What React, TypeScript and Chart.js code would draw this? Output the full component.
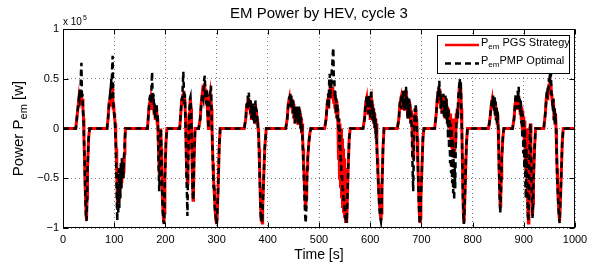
import React, { useEffect, useRef } from "react";
import { Chart, registerables } from "chart.js";

Chart.register(...registerables);

const TITLE = "EM Power by HEV, cycle 3";
const X_LABEL = "Time [s]";
const X_TICKS = [0, 100, 200, 300, 400, 500, 600, 700, 800, 900, 1000];
const Y_TICKS = [-1, -0.5, 0, 0.5, 1];
const LEGEND_PGS = "PGS Strategy";
const LEGEND_PMP = "PMP Optimal";

// time [s]
const TIME = [
  0,
  25, 27, 29, 31, 32, 33, 34, 35, 36, 37, 38, 39, 40, 41, 42, 43, 44, 45, 46, 47, 48, 50, 52,
  86, 88, 90, 92, 93, 94, 95, 96, 97, 98, 99, 100, 101, 102, 103, 104, 105, 106, 107, 108, 109, 110, 111, 112, 113, 114, 115, 116, 117, 118, 119, 120, 121, 122,
  165, 167, 169, 171, 172, 173, 174, 175, 176, 177, 178, 179, 180, 181, 182, 183, 184, 185, 186, 187, 188, 189, 190, 191, 192, 193, 194, 195, 196, 197, 198, 199, 201, 203,
  228, 230, 232, 233, 234, 235, 236, 237, 238, 239, 240, 241, 242, 243, 244, 245, 246, 247, 248, 249, 250, 251, 252, 253, 254, 255, 256, 258,
  265, 268, 270, 272, 274, 275, 276, 277, 278, 279, 280, 281, 282, 283, 284, 285, 286, 287, 288, 289, 290, 291, 292, 293, 294, 295, 296, 297, 298, 299, 300, 301, 303, 305, 307,
  354, 357, 359, 360, 361, 362, 363, 364, 365, 366, 367, 368, 369, 370, 371, 372, 373, 374, 375, 376, 377, 378, 379, 380, 381, 382, 383, 384, 385, 386, 387, 388, 389, 390, 392, 394, 397,
  435, 438, 440, 442, 443, 444, 445, 446, 447, 448, 449, 450, 451, 452, 453, 454, 455, 456, 457, 458, 459, 460, 461, 462, 463, 464, 465, 466, 467, 468, 469, 470, 471, 472, 473, 474, 475, 476, 477, 478, 480, 482, 484,
  511, 514, 516, 518, 519, 520, 521, 522, 523, 524, 525, 526, 527, 528, 529, 530, 531, 532, 533, 534, 535, 536, 537, 538, 539, 540, 541, 542, 543, 544, 545, 546, 547, 548, 549, 550, 551, 552, 553, 554, 555, 557, 559, 561,
  586, 589, 591, 593, 594, 595, 596, 597, 598, 599, 600, 601, 602, 603, 604, 605, 606, 607, 608, 609, 610, 611, 612, 613, 614, 615, 616, 617, 618, 619, 620, 621, 622, 623, 625, 627,
  653, 656, 658, 660, 661, 662, 663, 664, 665, 666, 667, 668, 669, 670, 671, 672, 673, 674, 675, 676, 677, 678, 679, 680, 681, 682, 683, 684, 685, 686, 687, 688, 689, 690, 691, 692, 693, 694, 695, 696, 697, 698, 699, 701, 703, 705,
  726, 729, 731, 732, 733, 734, 735, 736, 737, 738, 739, 740, 741, 742, 743, 744, 745, 746, 747, 748, 749, 750, 751, 752, 753, 754, 755, 756, 757, 758, 759, 760, 761, 762, 763, 764, 765, 766, 767, 768, 769, 770, 771, 772, 773, 774, 775, 776, 777, 778, 779, 780, 781, 782, 783, 784, 786, 788, 790,
  831, 834, 836, 838, 839, 840, 841, 842, 843, 844, 845, 846, 847, 848, 849, 850, 851, 852, 853, 854, 855, 856, 857, 859, 861,
  878, 881, 883, 884, 885, 886, 887, 888, 889, 890, 891, 892, 893, 894, 895, 896, 897, 898, 899, 900, 901, 902, 903, 904, 905, 906, 907, 908, 909, 910, 911, 912, 913, 914, 915, 916, 917, 918, 919, 921, 923,
  939, 942, 944, 945, 946, 947, 948, 949, 950, 951, 952, 953, 954, 955, 956, 957, 958, 959, 960, 961, 962, 963, 964, 965, 966, 967, 968, 969, 970, 971, 973, 975, 977,
  1000,
];

// P_em, PGS strategy [x 1e5 W]
const PGS = [
  0,
  0, 0.1, 0.2, 0.3, 0.25, 0.32, 0.28, 0.35, 0.3, 0.25, 0.3, 0.2, 0.1, -0.1, -0.3, -0.5, -0.7, -0.85, -0.92, -0.7, -0.4, -0.1, 0,
  0, 0.1, 0.25, 0.3, 0.22, 0.4, 0.3, 0.45, 0.35, 0.2, 0.25, 0.15, 0.1, 0.05, -0.1, -0.2, -0.45, -0.7, -0.8, -0.6, -0.75, -0.5, -0.65, -0.4, -0.6, -0.35, -0.55, -0.3, -0.5, -0.3, -0.45, -0.25, -0.1, 0,
  0, 0.15, 0.25, 0.3, 0.2, 0.35, 0.28, 0.3, 0.22, 0.25, 0.15, 0.2, 0.1, 0.18, 0.12, 0.2, 0.05, 0.1, -0.1, -0.3, -0.45, -0.3, -0.1, 0.0, -0.2, -0.45, -0.65, -0.8, -0.9, -0.95, -0.85, -0.5, -0.15, 0,
  0, 0.15, 0.3, 0.25, 0.35, 0.3, 0.38, 0.25, 0.3, 0.15, -0.05, -0.3, -0.45, -0.55, -0.35, -0.2, 0.05, 0.15, 0.25, 0.3, 0.2, 0.0, -0.3, -0.55, -0.72, -0.6, -0.3, 0,
  0, 0.1, 0.25, 0.35, 0.3, 0.4, 0.45, 0.35, 0.3, 0.4, 0.25, 0.35, 0.2, 0.1, 0.0, 0.15, 0.25, 0.3, 0.35, 0.3, 0.2, 0.0, -0.2, -0.35, -0.5, -0.6, -0.7, -0.8, -0.88, -0.93, -0.96, -0.9, -0.6, -0.2, 0,
  0, 0.1, 0.25, 0.2, 0.3, 0.25, 0.3, 0.2, 0.28, 0.15, 0.25, 0.1, 0.2, 0.12, 0.22, 0.1, 0.2, 0.05, 0.15, 0.25, 0.1, 0.18, 0.05, 0.1, 0.0, -0.05, -0.2, -0.4, -0.6, -0.8, -0.92, -0.85, -0.95, -0.8, -0.5, -0.2, 0,
  0, 0.1, 0.25, 0.3, 0.22, 0.32, 0.25, 0.3, 0.2, 0.28, 0.15, 0.25, 0.1, 0.2, 0.05, 0.15, 0.1, 0.2, 0.08, 0.18, 0.05, 0.12, 0.2, 0.1, 0.15, 0.0, 0.1, -0.05, 0.05, -0.1, -0.2, -0.35, -0.5, -0.6, -0.75, -0.8, -0.7, -0.55, -0.4, -0.3, -0.15, -0.05, 0,
  0, 0.1, 0.25, 0.3, 0.2, 0.35, 0.3, 0.45, 0.35, 0.4, 0.3, 0.42, 0.35, 0.3, 0.25, 0.35, 0.2, 0.3, 0.15, 0.28, 0.1, 0.2, 0.05, -0.3, 0.1, -0.5, 0.05, -0.6, 0.0, -0.7, -0.1, -0.8, -0.2, -0.85, -0.3, -0.9, -0.4, -0.95, -0.5, -0.95, -0.8, -0.4, -0.1, 0,
  0, 0.1, 0.25, 0.3, 0.2, 0.28, 0.15, 0.3, 0.2, 0.25, 0.1, 0.28, 0.3, 0.15, 0.25, 0.08, 0.2, 0.05, 0.15, 0.0, 0.1, -0.05, 0.05, -0.15, -0.3, -0.4, -0.55, -0.65, -0.75, -0.82, -0.88, -0.92, -0.85, -0.6, -0.2, 0,
  0, 0.1, 0.25, 0.3, 0.2, 0.32, 0.25, 0.35, 0.22, 0.3, 0.18, 0.35, 0.25, 0.38, 0.2, 0.3, 0.12, 0.25, 0.1, 0.28, 0.15, 0.22, 0.05, 0.18, 0.1, 0.0, -0.15, -0.3, -0.1, 0.05, 0.15, 0.05, 0.2, 0.1, 0.05, -0.1, -0.3, -0.5, -0.7, -0.85, -0.95, -0.9, -0.7, -0.4, -0.1, 0,
  0, 0.15, 0.3, 0.25, 0.38, 0.3, 0.4, 0.3, 0.35, 0.2, 0.3, 0.15, 0.28, 0.2, 0.32, 0.15, 0.25, 0.1, 0.3, 0.2, 0.28, 0.1, 0.22, 0.05, 0.2, 0.1, 0.0, 0.15, -0.1, 0.1, -0.2, 0.05, -0.25, 0.1, -0.2, 0.05, -0.3, 0.1, -0.15, 0.15, 0.05, 0.2, 0.1, 0.25, 0.35, 0.4, 0.45, 0.3, 0.4, 0.2, 0.0, -0.3, -0.6, -0.85, -0.95, -0.85, -0.5, -0.15, 0,
  0, 0.1, 0.22, 0.28, 0.2, 0.3, 0.25, 0.2, 0.3, 0.15, 0.25, 0.1, 0.2, 0.05, 0.15, 0.0, -0.2, -0.45, -0.65, -0.78, -0.7, -0.5, -0.3, -0.1, 0,
  0, 0.1, 0.25, 0.3, 0.22, 0.28, 0.2, 0.32, 0.25, 0.33, 0.2, 0.28, 0.15, 0.25, 0.1, 0.22, 0.0, 0.18, -0.05, 0.12, -0.15, 0.08, -0.3, -0.45, 0.0, -0.3, -0.6, -0.85, -0.95, -0.7, -0.3, 0.0, 0.05, -0.2, -0.45, -0.7, -0.88, -0.75, -0.5, -0.2, 0,
  0, 0.15, 0.3, 0.35, 0.3, 0.4, 0.35, 0.45, 0.4, 0.5, 0.42, 0.45, 0.35, 0.3, 0.25, 0.2, 0.28, 0.1, 0.2, 0.05, 0.15, 0.0, -0.2, -0.4, -0.55, -0.7, -0.8, -0.88, -0.93, -0.8, -0.5, -0.15, 0,
  0,
];

// P_em, PMP optimal [x 1e5 W]
const PMP = [
  0,
  0, 0.1, 0.2, 0.3, 0.28, 0.4, 0.3, 0.55, 0.66, 0.3, 0.35, 0.2, 0.1, -0.1, -0.3, -0.55, -0.75, -0.88, -0.93, -0.7, -0.4, -0.1, 0,
  0, 0.1, 0.25, 0.35, 0.3, 0.5, 0.4, 0.62, 0.73, 0.3, 0.2, 0.15, 0.1, 0.0, -0.15, -0.4, -0.7, -0.93, -0.6, -0.85, -0.4, -0.8, -0.5, -0.7, -0.35, -0.6, -0.3, -0.5, -0.35, -0.5, -0.3, -0.2, -0.1, 0,
  0, 0.15, 0.3, 0.35, 0.25, 0.45, 0.57, 0.3, 0.28, 0.35, 0.15, 0.25, 0.1, 0.22, 0.1, 0.25, 0.05, 0.15, -0.2, -0.45, -0.63, -0.4, -0.1, 0.0, -0.2, -0.5, -0.7, -0.85, -0.9, -0.96, -0.85, -0.5, -0.15, 0,
  0, 0.15, 0.3, 0.3, 0.45, 0.57, 0.4, 0.25, 0.35, 0.1, -0.1, -0.45, -0.65, -0.88, -0.5, -0.25, 0.05, 0.2, 0.3, 0.32, 0.2, 0.0, -0.3, -0.6, -0.72, -0.65, -0.3, 0,
  0, 0.1, 0.25, 0.35, 0.3, 0.45, 0.5, 0.53, 0.3, 0.4, 0.25, 0.4, 0.2, 0.1, 0.0, 0.2, 0.3, 0.35, 0.4, 0.43, 0.2, 0.0, -0.2, -0.4, -0.6, -0.55, -0.75, -0.85, -0.85, -0.93, -0.96, -0.9, -0.6, -0.2, 0,
  0, 0.1, 0.25, 0.2, 0.33, 0.25, 0.36, 0.2, 0.3, 0.15, 0.28, 0.1, 0.25, 0.12, 0.25, 0.08, 0.22, 0.05, 0.2, 0.28, 0.1, 0.2, 0.05, 0.12, 0.0, -0.05, -0.25, -0.45, -0.65, -0.85, -0.93, -0.85, -0.95, -0.8, -0.5, -0.2, 0,
  0, 0.1, 0.25, 0.32, 0.22, 0.35, 0.25, 0.33, 0.2, 0.3, 0.15, 0.28, 0.1, 0.22, 0.05, 0.18, 0.1, 0.22, 0.08, 0.2, 0.05, 0.15, 0.22, 0.1, 0.18, 0.0, 0.12, -0.05, 0.05, -0.15, -0.3, -0.45, -0.6, -0.75, -0.88, -0.95, -0.85, -0.65, -0.45, -0.3, -0.15, -0.05, 0,
  0, 0.1, 0.25, 0.35, 0.2, 0.5, 0.55, 0.3, 0.45, 0.4, 0.6, 0.65, 0.75, 0.81, 0.45, 0.5, 0.3, 0.38, 0.15, 0.3, 0.1, 0.25, 0.05, 0.0, 0.1, -0.2, 0.0, -0.35, -0.3, -0.5, -0.45, -0.65, -0.6, -0.75, -0.7, -0.85, -0.8, -0.92, -0.88, -0.95, -0.8, -0.4, -0.1, 0,
  0, 0.1, 0.25, 0.32, 0.2, 0.3, 0.15, 0.33, 0.22, 0.3, 0.1, 0.3, 0.39, 0.15, 0.28, 0.08, 0.22, 0.05, 0.18, 0.0, 0.12, -0.1, 0.05, -0.2, -0.35, -0.45, -0.6, -0.7, -0.8, -0.85, -0.9, -0.93, -0.85, -0.6, -0.2, 0,
  0, 0.1, 0.25, 0.32, 0.2, 0.35, 0.25, 0.38, 0.22, 0.3, 0.18, 0.4, 0.25, 0.42, 0.2, 0.32, 0.1, 0.28, 0.1, 0.3, 0.12, 0.25, 0.05, 0.15, 0.0, -0.2, -0.45, -0.63, -0.3, 0.05, 0.2, 0.05, 0.25, 0.1, 0.05, -0.15, -0.35, -0.55, -0.75, -0.88, -0.96, -0.9, -0.7, -0.4, -0.1, 0,
  0, 0.15, 0.3, 0.28, 0.42, 0.35, 0.48, 0.3, 0.38, 0.2, 0.32, 0.15, 0.3, 0.2, 0.35, 0.12, 0.28, 0.1, 0.33, 0.2, 0.3, 0.05, 0.22, -0.1, 0.2, -0.2, 0.1, -0.35, 0.05, -0.45, 0.0, -0.55, -0.1, -0.65, -0.2, -0.72, -0.4, -0.6, -0.2, 0.0, 0.1, 0.2, 0.1, 0.3, 0.38, 0.45, 0.5, 0.35, 0.48, 0.2, 0.0, -0.35, -0.65, -0.88, -0.96, -0.85, -0.5, -0.15, 0,
  0, 0.1, 0.22, 0.3, 0.2, 0.33, 0.25, 0.18, 0.32, 0.12, 0.27, 0.08, 0.22, 0.05, 0.18, 0.0, -0.25, -0.5, -0.7, -0.85, -0.72, -0.5, -0.3, -0.1, 0,
  0, 0.1, 0.25, 0.35, 0.25, 0.3, 0.2, 0.38, 0.3, 0.42, 0.2, 0.3, 0.15, 0.28, 0.05, 0.2, -0.1, 0.15, -0.25, 0.1, -0.4, 0.0, -0.55, -0.7, -0.2, -0.35, -0.65, -0.88, -0.93, -0.7, -0.3, 0.0, 0.05, -0.25, -0.5, -0.72, -0.9, -0.78, -0.5, -0.2, 0,
  0, 0.15, 0.3, 0.38, 0.3, 0.42, 0.38, 0.5, 0.45, 0.58, 0.45, 0.55, 0.35, 0.32, 0.25, 0.18, 0.3, 0.08, 0.22, 0.05, 0.15, 0.0, -0.2, -0.45, -0.6, -0.72, -0.82, -0.9, -0.95, -0.8, -0.5, -0.15, 0,
  0,
];

const FONT = '"Liberation Sans", Arial, Helvetica, sans-serif';

const decor = {
  id: "decor",
  afterDraw(chart: any) {
    const { ctx, chartArea: a } = chart;
    const xs = chart.scales.x;
    const ys = chart.scales.y;
    const L = Math.round(a.left) + 0.5;
    const R = Math.round(a.right) - 0.5;
    const T = Math.round(a.top) + 0.5;
    const B = Math.round(a.bottom) - 0.5;
    ctx.save();
    ctx.strokeStyle = "#000";
    ctx.lineWidth = 1;
    ctx.setLineDash([]);
    ctx.strokeRect(L, T, R - L, B - T);
    ctx.beginPath();
    X_TICKS.forEach((v) => {
      const px = Math.round(xs.getPixelForValue(v)) + 0.5;
      ctx.moveTo(px, B); ctx.lineTo(px, B - 5);
      ctx.moveTo(px, T); ctx.lineTo(px, T + 5);
    });
    Y_TICKS.forEach((v) => {
      const py = Math.round(ys.getPixelForValue(v)) + 0.5;
      ctx.moveTo(L, py); ctx.lineTo(L + 5, py);
      ctx.moveTo(R, py); ctx.lineTo(R - 5, py);
    });
    ctx.stroke();

    ctx.fillStyle = "#000";
    // title
    ctx.font = `15px ${FONT}`;
    ctx.textAlign = "center";
    ctx.textBaseline = "alphabetic";
    ctx.fillText(TITLE, (a.left + a.right) / 2, 18);
    // x label
    ctx.font = `14px ${FONT}`;
    ctx.fillText(X_LABEL, (a.left + a.right) / 2, 259);
    // exponent
    ctx.textAlign = "left";
    ctx.font = `10px ${FONT}`;
    ctx.fillText("x 10", a.left, 25);
    const w10 = ctx.measureText("x 10").width;
    ctx.font = `7px ${FONT}`;
    ctx.fillText("5", a.left + w10 + 1, 20);

    // y label
    ctx.save();
    ctx.translate(23, (a.top + a.bottom) / 2);
    ctx.rotate(-Math.PI / 2);
    ctx.font = `15px ${FONT}`;
    const p1 = "Power P";
    const p3 = " [w]";
    const w1 = ctx.measureText(p1).width;
    const w3 = ctx.measureText(p3).width;
    ctx.font = `11px ${FONT}`;
    const w2 = ctx.measureText("em").width;
    const x0 = -(w1 + w2 + w3) / 2;
    ctx.font = `15px ${FONT}`;
    ctx.fillText(p1, x0, 0);
    ctx.font = `11px ${FONT}`;
    ctx.fillText("em", x0 + w1, 4);
    ctx.font = `15px ${FONT}`;
    ctx.fillText(p3, x0 + w1 + w2, 0);
    ctx.restore();

    // legend
    const bx = 437.5, by = 35.5, bw = 132, bh = 38;
    ctx.fillStyle = "#fff";
    ctx.fillRect(bx, by, bw, bh);
    ctx.strokeStyle = "#000";
    ctx.lineWidth = 1;
    ctx.strokeRect(bx, by, bw, bh);
    ctx.lineWidth = 2.5;
    ctx.strokeStyle = "#ff0000";
    ctx.beginPath(); ctx.moveTo(445, 45); ctx.lineTo(479, 45); ctx.stroke();
    ctx.strokeStyle = "#000";
    ctx.setLineDash([6, 4]);
    ctx.beginPath(); ctx.moveTo(445, 63.5); ctx.lineTo(479, 63.5); ctx.stroke();
    ctx.setLineDash([]);
    ctx.fillStyle = "#000";
    const drawEntry = (y: number, rest: string) => {
      ctx.font = `11px ${FONT}`;
      ctx.fillText("P", 481, y);
      const wp = ctx.measureText("P").width;
      ctx.font = `8px ${FONT}`;
      ctx.fillText("em", 481 + wp, y + 3);
      const we = ctx.measureText("em").width;
      ctx.font = `11px ${FONT}`;
      ctx.fillText(rest, 481 + wp + we, y);
    };
    drawEntry(45.5, " " + LEGEND_PGS);
    drawEntry(63.5, LEGEND_PMP);
    ctx.restore();
  },
};

export default function App() {
  const ref = useRef<HTMLCanvasElement | null>(null);
  useEffect(() => {
    const canvas = ref.current;
    if (!canvas) return;
    Chart.defaults.font.family = FONT;
    Chart.defaults.color = "#000";
    const pgsData = TIME.map((t, i) => ({ x: t, y: PGS[i] }));
    const pmpData = TIME.map((t, i) => ({ x: t, y: PMP[i] }));
    const chart = new Chart(canvas, {
      type: "line",
      data: {
        datasets: [
          {
            label: "PMP Optimal",
            data: pmpData,
            borderColor: "#000000",
            borderWidth: 2.5,
            borderDash: [6, 4],
            pointRadius: 0,
            tension: 0,
            fill: false,
            order: 1,
          },
          {
            label: "PGS Strategy",
            data: pgsData,
            borderColor: "#ff0000",
            borderWidth: 3,
            pointRadius: 0,
            tension: 0,
            fill: false,
            order: 2,
          },
        ],
      },
      options: {
        animation: false,
        responsive: false,
        maintainAspectRatio: false,
        events: [],
        layout: { padding: { left: 0, right: 21, top: 29, bottom: 0 } },
        plugins: {
          legend: { display: false },
          title: { display: false },
          tooltip: { enabled: false },
        },
        scales: {
          x: {
            type: "linear",
            min: 0,
            max: 1000,
            afterBuildTicks: (s: any) => { s.ticks = X_TICKS.map((v) => ({ value: v })); },
            ticks: {
              color: "#000",
              font: { size: 11 },
              padding: 5,
              maxRotation: 0,
              autoSkip: false,
              callback: (v: any) => String(v),
            },
            grid: { color: "rgba(0,0,0,0.5)", drawTicks: false, lineWidth: 1 },
            border: { display: false, dash: [1, 3] },
            afterFit: (s: any) => { s.height = 37; },
          },
          y: {
            type: "linear",
            min: -1,
            max: 1,
            afterBuildTicks: (s: any) => { s.ticks = Y_TICKS.map((v) => ({ value: v })); },
            ticks: {
              color: "#000",
              font: { size: 11 },
              padding: 4,
              autoSkip: false,
              callback: (v: any) => (v < 0 ? "\u2212" : "") + String(Math.abs(Number(v))),
            },
            grid: { color: "rgba(0,0,0,0.5)", drawTicks: false, lineWidth: 1 },
            border: { display: false, dash: [1, 3] },
            afterFit: (s: any) => { s.width = 63; },
          },
        },
      },
      plugins: [decor],
    } as any);
    return () => chart.destroy();
  }, []);
  return (
    <div style={{ position: "fixed", left: 0, top: 0, width: 596, height: 265, background: "#fff" }}>
      <canvas ref={ref} width={596} height={265} style={{ display: "block", width: 596, height: 265 }} />
    </div>
  );
}
